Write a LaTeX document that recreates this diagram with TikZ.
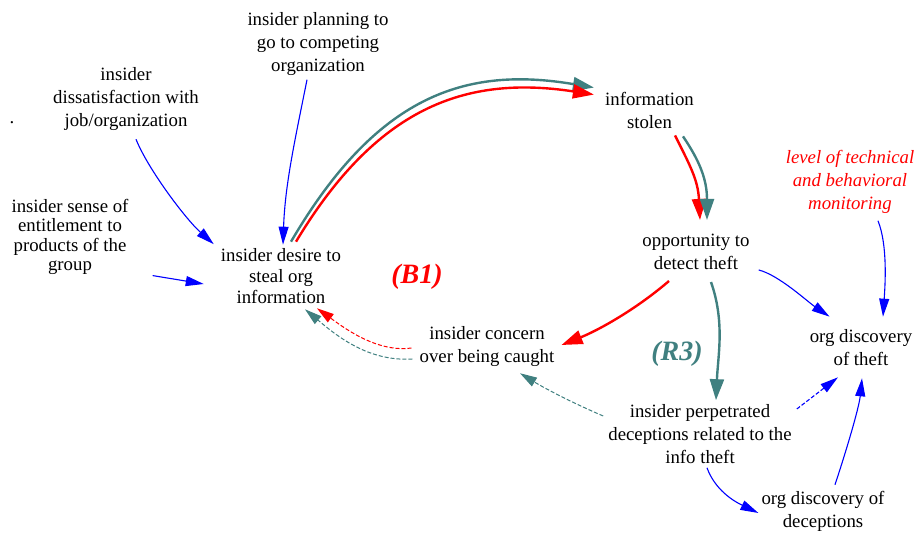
\documentclass[tikz,border=0pt]{standalone}
\usepackage{fontspec}
\setmainfont{Liberation Serif}
\usepackage{tikz}
\usetikzlibrary{arrows.meta}
\definecolor{loopteal}{RGB}{64,128,128}
\definecolor{loopred}{RGB}{255,0,0}
\definecolor{linkblue}{RGB}{0,0,255}

\begin{document}
\begin{tikzpicture}[x=1pt, y=1pt,
  var/.style={align=center, inner sep=3pt, font=\fontsize{18.8}{23}\selectfont},
  flow/.style={line width=2.4pt, -{Triangle[length=21pt, width=14pt]}},
  link/.style={linkblue, line width=1.1pt, -{Triangle[length=18pt, width=10pt]}},
  hint/.style={line width=1pt, dash pattern=on 4pt off 2pt, -{Triangle[length=17pt, width=10pt]}},
  looplabel/.style={font=\fontsize{28}{30}\selectfont\bfseries\itshape}]
  \useasboundingbox (0,0) rectangle (922,534);

  % Variables
  \node[var] (dot) at (12,411) {.};
  \node[var] (diss) at (126,434.5) {insider\\dissatisfaction with\\job/organization};
  \node[var] (plan) at (318,490) {insider planning to\\go to competing\\organization};
  \node[var, font=\fontsize{18.8}{19.5}\selectfont] (sense) at (70,297) {insider sense of\\entitlement to\\products of the\\group};
  \node[var, font=\fontsize{18.8}{21}\selectfont] (desire) at (281,258) {insider desire to\\steal org\\information};
  \node[var] (stolen) at (649.5,423.5) {information\\stolen};
  \node[var] (opp) at (696,282) {opportunity to\\detect theft};
  \node[var, loopred, font=\fontsize{18.8}{23}\selectfont\itshape] (level) at (850,352) {level of technical\\and behavioral\\monitoring};
  \node[var] (orgtheft) at (861,186) {org discovery\\of theft};
  \node[var] (concern) at (487,187) {insider concern\\over being caught};
  \node[var] (decep) at (700,100) {insider perpetrated\\deceptions related to the\\info theft};
  \node[var] (orgdecep) at (823,23) {org discovery of\\deceptions};

  % Loop names
  \node[looplabel, loopred] (b1) at (417,257) {(B1)};
  \node[looplabel, loopteal] (r3) at (677,180) {(R3)};

  % Drivers of desire
  \draw[link] ([shift={(10,-5)}]diss.south) .. controls +(12,-30) and +(-28,25) .. ([shift={(-4,1)}]desire.north west);
  \draw[link] ([shift={(-11,-1)}]plan.south) .. controls +(-12,-60) and +(2,60) .. ([shift={(2,0.5)}]desire.north);
  \draw[link] ([shift={(21,2.5)}]sense.south east) -- ([shift={(-14,-8)}]desire.west);

  % Shared links of B1 and R3
  \draw[flow, loopteal] ([shift={(10,3.5)}]desire.north) .. controls +(85,145) and +(-130,22) .. ([shift={(-8,1.5)}]stolen.north west);
  \draw[flow, loopred] ([shift={(15,3.5)}]desire.north) .. controls +(80,133) and +(-130,20) .. ([shift={(-8,-5.5)}]stolen.north west);
  \draw[flow, loopred] ([shift={(25.5,-3.5)}]stolen.south) .. controls +(15,-30) and +(-2,40) .. ([shift={(4,11)}]opp.north);
  \draw[flow, loopteal] ([shift={(33.5,-4.5)}]stolen.south) .. controls +(17,-25) and +(0,40) .. ([shift={(11,11)}]opp.north);

  % B1
  \draw[flow, loopred] ([shift={(-27,-8)}]opp.south) .. controls +(-35,-30) and +(35,14) .. ([shift={(4,2)}]concern.east);
  \draw[hint, loopred] ([shift={(-5,-1)}]concern.west) .. controls +(-35,-5) and +(25,-18) .. ([shift={(36,-1.5)}]desire.south);

  % R3
  \draw[flow, loopteal] ([shift={(15,-9)}]opp.south) .. controls +(14,-40) and +(2,45) .. ([shift={(16,1)}]decep.north);
  \draw[hint, loopteal] ([shift={(-2,18)}]decep.west) .. controls +(-28,12) and +(28,-17) .. ([shift={(33,-3)}]concern.south);
  \draw[hint, loopteal] ([shift={(-4,-12)}]concern.west) .. controls +(-45,-3) and +(30,-25) .. ([shift={(24,-2.5)}]desire.south);

  % Discovery
  \draw[link] ([shift={(6,-18)}]opp.east) .. controls +(20,-5) and +(-22,15) .. ([shift={(23,10)}]orgtheft.north west);
  \draw[link] ([shift={(28,-4)}]level.south) .. controls +(10,-25) and +(2,30) .. ([shift={(22,10)}]orgtheft.north);
  \draw[link, dash pattern=on 4pt off 2pt] ([shift={(2,25)}]decep.east) -- ([shift={(-23,-8)}]orgtheft.south);
  \draw[link] ([shift={(7,-1)}]decep.south) .. controls +(8,-22) and +(-25,12) .. ([shift={(0,-2)}]orgdecep.west);
  \draw[link] ([shift={(12,3)}]orgdecep.north) .. controls +(10,30) and +(-3,-30) .. ([shift={(1,-9)}]orgtheft.south);
\end{tikzpicture}
\end{document}
